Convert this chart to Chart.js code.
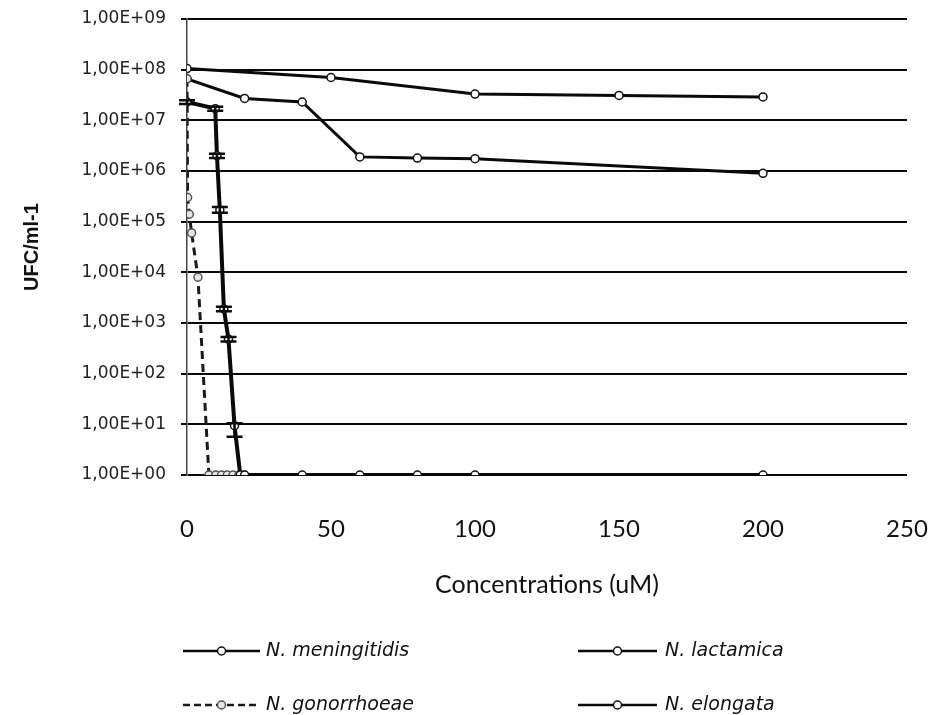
<!DOCTYPE html>
<html>
<head>
<meta charset="utf-8">
<script src="https://cdn.jsdelivr.net/npm/chart.js@4.4.1/dist/chart.umd.min.js"></script>
<style>
  html, body { margin: 0; padding: 0; background: #fff; }
  #wrap { width: 929px; height: 715px; position: relative; }
</style>
</head>
<body>
<div id="wrap"><canvas id="c" width="929" height="715"></canvas></div>
<script>
// ---------- data ----------
const seriesNames = ['N. meningitidis', 'N. lactamica', 'N. gonorrhoeae', 'N. elongata'];

const concMen = [0, 9.8, 10.4, 11.4, 12.8, 14.4, 16.5, 18.5, 20, 40, 60, 80, 100, 200];
const ufcMen  = [2.3e7, 1.7e7, 2e6, 1.7e5, 1.9e3, 480, 9.4, 1, 1, 1, 1, 1, 1, 1];
const menErrLow  = [2.1e7, 1.55e7, 1.8e6, 1.5e5, 1.7e3, 430, 5.7, null, null, null, null, null, null, null];
const menErrHigh = [2.5e7, 1.85e7, 2.2e6, 1.95e5, 2.1e3, 530, 10.5, null, null, null, null, null, null, null];

const concLac = [0, 50, 100, 150, 200];
const ufcLac  = [1.05e8, 7e7, 3.3e7, 3.1e7, 2.9e7];

const concGon = [0, 0.2, 0.8, 1.6, 3.8, 7.6, 10, 12, 14, 16, 18, 20];
const ufcGon  = [6.6e7, 3e5, 1.4e5, 6e4, 8e3, 1, 1, 1, 1, 1, 1, 1];

const concElo = [0, 20, 40, 60, 80, 100, 200];
const ufcElo  = [6.6e7, 2.7e7, 2.3e7, 1.9e6, 1.8e6, 1.75e6, 9e5];

const yTickValues = [1, 1e1, 1e2, 1e3, 1e4, 1e5, 1e6, 1e7, 1e8, 1e9];
const yTickLabels = ['1,00E+00','1,00E+01','1,00E+02','1,00E+03','1,00E+04','1,00E+05','1,00E+06','1,00E+07','1,00E+08','1,00E+09'];
const xTickLabels = ['0', '50', '100', '150', '200', '250'];

const yTitle = 'UFC/ml-1';
const xTitle = 'Concentrations (uM)';

// ---------- build ----------
const pts = (xs, ys) => xs.map((x, i) => ({ x: x, y: ys[i] }));

const datasets = [
  { label: seriesNames[0], data: pts(concMen, ufcMen), borderColor: '#0a0a0a', borderWidth: 4,
    pointRadius: 4, pointBackgroundColor: '#fff', pointBorderColor: '#111', pointBorderWidth: 1.5,
    errLow: menErrLow, errHigh: menErrHigh, legendCol: 0, legendRow: 0 },
  { label: seriesNames[1], data: pts(concLac, ufcLac), borderColor: '#0a0a0a', borderWidth: 3,
    pointRadius: 4, pointBackgroundColor: '#fff', pointBorderColor: '#111', pointBorderWidth: 1.5,
    legendCol: 1, legendRow: 0 },
  { label: seriesNames[2], data: pts(concGon, ufcGon), borderColor: '#1a1a1a', borderWidth: 3, borderDash: [8, 5],
    pointRadius: 4, pointBackgroundColor: '#e6e6e6', pointBorderColor: '#555', pointBorderWidth: 1.5,
    legendCol: 0, legendRow: 1 },
  { label: seriesNames[3], data: pts(concElo, ufcElo), borderColor: '#0a0a0a', borderWidth: 3,
    pointRadius: 4, pointBackgroundColor: '#fff', pointBorderColor: '#111', pointBorderWidth: 1.5,
    legendCol: 1, legendRow: 1 }
];

const errorBarPlugin = {
  id: 'errorBars',
  afterDatasetsDraw(chart) {
    const { ctx, scales: { x, y } } = chart;
    chart.data.datasets.forEach((ds) => {
      if (!ds.errLow) return;
      ctx.save();
      ctx.strokeStyle = '#0a0a0a';
      ctx.lineWidth = 2.5;
      ds.data.forEach((p, i) => {
        const lo = ds.errLow[i], hi = ds.errHigh[i];
        if (lo == null || hi == null) return;
        const px = x.getPixelForValue(p.x);
        const yl = y.getPixelForValue(lo), yh = y.getPixelForValue(hi);
        ctx.beginPath();
        ctx.moveTo(px, yl); ctx.lineTo(px, yh);
        ctx.moveTo(px - 8, yl); ctx.lineTo(px + 8, yl);
        ctx.moveTo(px - 8, yh); ctx.lineTo(px + 8, yh);
        ctx.stroke();
      });
      ctx.restore();
    });
  }
};

const legendPlugin = {
  id: 'gridLegend',
  afterDraw(chart) {
    const ctx = chart.ctx;
    const cols = [{ x1: 183, x2: 260, tx: 266 }, { x1: 578, x2: 657, tx: 665 }];
    const rows = [651, 705];
    chart.data.datasets.forEach((ds) => {
      const c = cols[ds.legendCol], yy = rows[ds.legendRow];
      ctx.save();
      ctx.strokeStyle = ds.borderColor;
      ctx.lineWidth = 2.5;
      ctx.setLineDash(ds.borderDash ? [7, 4] : []);
      ctx.beginPath(); ctx.moveTo(c.x1, yy); ctx.lineTo(c.x2, yy); ctx.stroke();
      ctx.setLineDash([]);
      ctx.beginPath();
      ctx.arc((c.x1 + c.x2) / 2, yy, 4, 0, Math.PI * 2);
      ctx.fillStyle = ds.pointBackgroundColor; ctx.fill();
      ctx.lineWidth = 1.5; ctx.strokeStyle = ds.pointBorderColor; ctx.stroke();
      ctx.fillStyle = '#111';
      ctx.font = 'italic 19px "DejaVu Sans"';
      ctx.textBaseline = 'middle';
      ctx.textAlign = 'left';
      ctx.fillText(ds.label, c.tx, yy);
      ctx.restore();
    });
  }
};

new Chart(document.getElementById('c'), {
  type: 'line',
  data: { datasets: datasets },
  plugins: [errorBarPlugin, legendPlugin],
  options: {
    responsive: false,
    animation: false,
    layout: { padding: { top: 19, right: 0, left: 0, bottom: 0 } },
    plugins: { legend: { display: false }, tooltip: { enabled: false } },
    elements: { line: { tension: 0 } },
    scales: {
      x: {
        type: 'linear', min: 0, max: 250,
        afterBuildTicks: (s) => { s.ticks = xTickLabels.map((t) => ({ value: Number(t) })); },
        ticks: { callback: (v, i) => xTickLabels[i], font: { family: 'Lato', size: 24 }, color: '#111', padding: 40, maxRotation: 0 },
        grid: { display: false, drawTicks: false },
        border: { display: false },
        title: { display: true, text: xTitle, font: { family: 'Lato', size: 25 }, color: '#111', padding: { top: 0, bottom: 115 } },
        afterFit: (s) => { s.height = 240; s.paddingRight = 22; s.paddingLeft = 0; }
      },
      y: {
        type: 'logarithmic', min: 1, max: 1e9,
        afterBuildTicks: (s) => { s.ticks = yTickValues.map((v) => ({ value: v })); },
        ticks: { callback: (v, i) => yTickLabels[i], font: { family: 'DejaVu Sans', size: 17 }, color: '#222', padding: 15 },
        grid: { color: '#0a0a0a', lineWidth: 2, drawTicks: true, tickLength: 6 },
        border: { display: true, color: '#444', width: 1.5 },
        title: { display: true, text: yTitle, font: { family: 'Liberation Sans', size: 20, weight: 'bold' }, color: '#111', padding: { top: 20, bottom: 0 } },
        afterFit: (s) => { s.width = 187; s.paddingTop = 0; s.paddingBottom = 0; }
      }
    }
  }
});
</script>
</body>
</html>
